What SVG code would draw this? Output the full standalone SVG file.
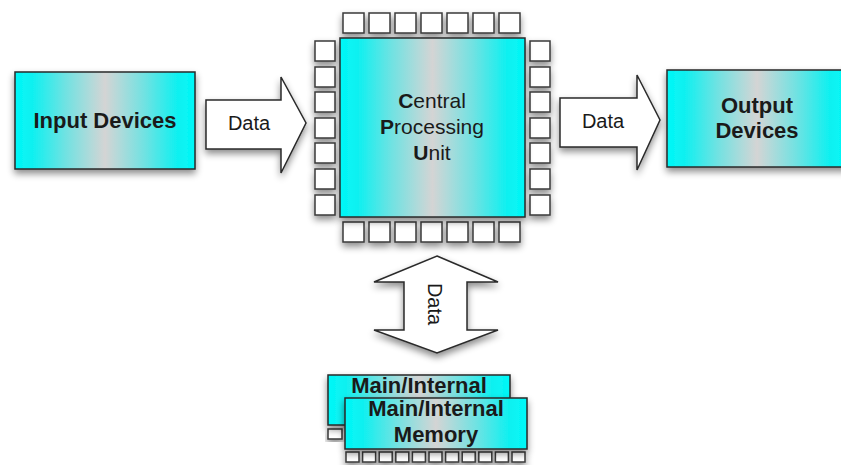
<svg xmlns="http://www.w3.org/2000/svg" width="841" height="470" viewBox="0 0 841 470">
<style>
.box{stroke:#2a2a2a;stroke-width:1.5;fill:url(#cg)}
.pin{fill:#fff;stroke:#3a3a3a;stroke-width:1.5}
.arr{fill:#fff;stroke:#2a2a2a;stroke-width:1.5;stroke-linejoin:miter}
text{font-family:"Liberation Sans",Arial,sans-serif;fill:#1a1a1a;text-anchor:middle}
.b{font-weight:bold;font-size:22px}
.r{font-size:20px}
.c{font-size:21px}
</style>
<defs>
<linearGradient id="cg" x1="0" y1="0" x2="1" y2="0">
<stop offset="0" stop-color="#00f8f8"/>
<stop offset="0.1" stop-color="#10f0f0"/>
<stop offset="0.28" stop-color="#70e2e2"/>
<stop offset="0.42" stop-color="#b0dada"/>
<stop offset="0.5" stop-color="#d4d4d4"/>
<stop offset="0.58" stop-color="#b0dada"/>
<stop offset="0.72" stop-color="#70e2e2"/>
<stop offset="0.9" stop-color="#10f0f0"/>
<stop offset="1" stop-color="#00f8f8"/>
</linearGradient>
<filter id="sh" x="-20%" y="-20%" width="140%" height="150%">
<feDropShadow dx="0" dy="4" stdDeviation="3.5" flood-color="#000" flood-opacity="0.45"/>
</filter>
</defs>
<rect width="841" height="470" fill="#fff"/>
<g id="connectors">
<path class="arr" filter="url(#sh)" d="M206,100 H281 V77 L306,123 L281,173 V149 H206 Z"/>
<text class="r" x="249" y="130">Data</text>
<path class="arr" filter="url(#sh)" d="M560,98 H637 V75 L660,120 L637,170 V147 H560 Z"/>
<text class="r" x="603" y="128">Data</text>
<path class="arr" filter="url(#sh)" d="M437,256 L498,282 H467 V330 H498 L437,353 L374,330 H404 V282 H374 Z"/>
<text class="r" transform="translate(428,304) rotate(90)" x="0" y="0">Data</text>
</g>
<g id="input-devices">
<rect class="box" filter="url(#sh)" x="15" y="72" width="180" height="97"/>
<text class="b" x="105" y="128">Input Devices</text>
</g>
<g id="cpu">
<g filter="url(#sh)">
<rect class="pin" x="343" y="13" width="21" height="20"/>
<rect class="pin" x="369" y="13" width="21" height="20"/>
<rect class="pin" x="395" y="13" width="21" height="20"/>
<rect class="pin" x="421" y="13" width="21" height="20"/>
<rect class="pin" x="447" y="13" width="21" height="20"/>
<rect class="pin" x="473" y="13" width="21" height="20"/>
<rect class="pin" x="499" y="13" width="21" height="20"/>
<rect class="pin" x="343" y="222" width="21" height="20"/>
<rect class="pin" x="369" y="222" width="21" height="20"/>
<rect class="pin" x="395" y="222" width="21" height="20"/>
<rect class="pin" x="421" y="222" width="21" height="20"/>
<rect class="pin" x="447" y="222" width="21" height="20"/>
<rect class="pin" x="473" y="222" width="21" height="20"/>
<rect class="pin" x="499" y="222" width="21" height="20"/>
<rect class="pin" x="315" y="41" width="20" height="20"/>
<rect class="pin" x="315" y="67" width="20" height="20"/>
<rect class="pin" x="315" y="92" width="20" height="20"/>
<rect class="pin" x="315" y="118" width="20" height="20"/>
<rect class="pin" x="315" y="143" width="20" height="20"/>
<rect class="pin" x="315" y="169" width="20" height="20"/>
<rect class="pin" x="315" y="195" width="20" height="20"/>
<rect class="pin" x="530" y="41" width="20" height="20"/>
<rect class="pin" x="530" y="67" width="20" height="20"/>
<rect class="pin" x="530" y="92" width="20" height="20"/>
<rect class="pin" x="530" y="118" width="20" height="20"/>
<rect class="pin" x="530" y="143" width="20" height="20"/>
<rect class="pin" x="530" y="169" width="20" height="20"/>
<rect class="pin" x="530" y="195" width="20" height="20"/>
</g>
<rect class="box" filter="url(#sh)" x="340" y="38" width="185" height="179"/>
<text class="c" x="432" y="108"><tspan font-weight="bold">C</tspan>entral</text>
<text class="c" x="432" y="134"><tspan font-weight="bold">P</tspan>rocessing</text>
<text class="c" x="432" y="160"><tspan font-weight="bold">U</tspan>nit</text>
</g>
<g id="output-devices">
<rect class="box" filter="url(#sh)" x="667" y="70" width="180" height="97"/>
<text class="b" x="757" y="113">Output</text>
<text class="b" x="757" y="138">Devices</text>
</g>
<g id="memory">
<rect class="pin" filter="url(#sh)" x="328" y="429" width="14" height="10"/>
<rect class="box" filter="url(#sh)" x="328" y="375" width="182" height="50"/>
<text class="b" x="419" y="393">Main/Internal</text>
<g filter="url(#sh)">
<rect class="pin" x="346" y="452" width="13" height="10"/>
<rect class="pin" x="362.6" y="452" width="13" height="10"/>
<rect class="pin" x="379.2" y="452" width="13" height="10"/>
<rect class="pin" x="395.8" y="452" width="13" height="10"/>
<rect class="pin" x="412.4" y="452" width="13" height="10"/>
<rect class="pin" x="429" y="452" width="13" height="10"/>
<rect class="pin" x="445.6" y="452" width="13" height="10"/>
<rect class="pin" x="462.2" y="452" width="13" height="10"/>
<rect class="pin" x="478.8" y="452" width="13" height="10"/>
<rect class="pin" x="495.4" y="452" width="13" height="10"/>
<rect class="pin" x="512" y="452" width="13" height="10"/>
</g>
<rect class="box" filter="url(#sh)" x="345" y="398" width="182" height="51"/>
<text class="b" x="436" y="416">Main/Internal</text>
<text class="b" x="436" y="442">Memory</text>
</g>
</svg>
